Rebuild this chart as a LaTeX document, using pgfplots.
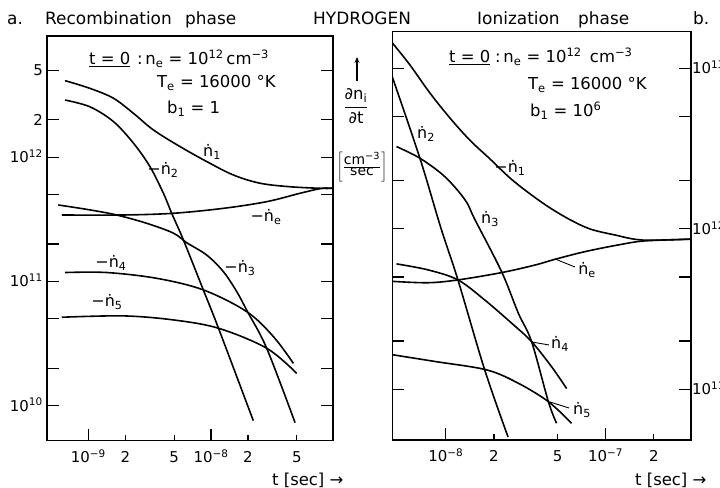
\documentclass[border=0pt]{standalone}
\usepackage{pgfplots}
\pgfplotsset{compat=1.18}
\usepackage{fontspec}
\setmainfont{DejaVu Sans}
\usetikzlibrary{arrows.meta}

\newcommand{\dn}[1]{\.{n}\textsubscript{#1}}
\newcommand{\tp}[1]{10\textsuperscript{#1}}
\newcommand{\ttl}{\fontsize{17}{19}\selectfont}
\newcommand{\lbl}{\fontsize{16.5}{19}\selectfont}
\newcommand{\crv}{\fontsize{16}{18}\selectfont}

\pgfplotsset{
  every axis plot/.append style={line width=1.6pt, smooth, tension=0.55},
}

\begin{document}
\begin{tikzpicture}[txt/.style={anchor=base west, inner sep=0pt}]
\useasboundingbox (0,0) rectangle (720bp,488bp);

% a. recombination phase
\begin{axis}[scale only axis, anchor=south west, at={(47bp,47.3bp)}, width=286bp, height=404.7bp,
  xmode=log, ymode=log,
  cycle list={{black, solid, no markers}},
  axis line style={line width=1.3pt},
  tick align=inside, xtick pos=left, ytick pos=both,
  major tick length=12bp,
  tick style={line width=1.2pt, black},
  minor tick style={draw=none},
  extra tick style={major tick length=6bp},
  tick label style={font=\fontsize{15}{17}\selectfont},
  xticklabel style={anchor=base, inner sep=0pt, yshift=-22bp},
  xmin=4.6e-10, xmax=9.86e-8, ymin=5.22e9, ymax=9.48e12,
  xtick={1e-9,1e-8}, xticklabels={\tp{−9},\tp{−8}},
  extra x ticks={2e-9,5e-9,2e-8,5e-8}, extra x tick labels={2,5,2,5},
  ytick={1e10,2e10,5e10,1e11,2e11,5e11,1e12,2e12,5e12},
  yticklabels={\tp{10},,,\tp{11},,,\tp{12},2,5},
  yticklabel style={anchor=base east, inner sep=0pt, xshift=-4bp, yshift=-5.5bp}]
% n1
\addplot coordinates {(6.46e-10,4.14e12) (1.03e-9,3.59e12) (1.60e-9,2.99e12) (2.33e-9,2.26e12) (3.39e-9,1.66e12) (5.58e-9,1.22e12) (9.23e-9,9.23e11) (1.52e-8,7.2e11) (2.51e-8,6.18e11) (4.40e-8,5.79e11) (7.98e-8,5.62e11) (9.86e-8,5.62e11)};
% -n2
\addplot coordinates {(6.46e-10,2.89e12) (1.03e-9,2.55e12) (1.60e-9,1.94e12) (2.33e-9,1.30e12) (3.18e-9,8.40e11) (4.09e-9,5.13e11) (4.78e-9,3.54e11) (5.95e-9,2.16e11) (8.65e-9,8.55e10) (1.15e-8,4.20e10) (2.21e-8,7.57e9)};
% -n3
\addplot coordinates {(5.69e-10,4.13e11) (1.03e-9,3.77e11) (1.70e-9,3.43e11) (2.99e-9,2.94e11) (4.93e-9,2.45e11) (6.34e-9,2.05e11) (9.23e-9,1.63e11) (1.26e-8,1.20e11) (1.62e-8,8.28e10) (1.98e-8,5.72e10) (2.84e-8,2.90e10) (4.84e-8,7.29e9)};
% -ne
\addplot coordinates {(6.07e-10,3.43e11) (1.93e-9,3.43e11) (4.93e-9,3.54e11) (1.26e-8,3.88e11) (2.84e-8,4.39e11) (5.31e-8,5.13e11) (7.98e-8,5.62e11) (9.86e-8,5.62e11)};
% -n4
\addplot coordinates {(6.46e-10,1.18e11) (1.41e-9,1.18e11) (3.61e-9,1.06e11) (8.65e-9,8.55e10) (1.95e-8,5.72e10) (3.22e-8,3.60e10) (4.69e-8,2.19e10)};
% -n5
\addplot coordinates {(6.07e-10,5.15e10) (1.93e-9,5.28e10) (4.93e-9,4.90e10) (1.15e-8,4.20e10) (2.84e-8,2.90e10) (4.99e-8,1.82e10)};
\end{axis}

% b. ionization phase
\begin{axis}[scale only axis, anchor=south west, at={(392.3bp,48bp)}, width=298.7bp, height=408.3bp,
  xmode=log, ymode=log,
  cycle list={{black, solid, no markers}},
  axis line style={line width=1.3pt},
  tick align=inside, xtick pos=left, ytick pos=both,
  major tick length=12bp,
  tick style={line width=1.2pt, black},
  minor tick style={draw=none},
  extra tick style={major tick length=6bp},
  tick label style={font=\fontsize{15}{17}\selectfont},
  xticklabel style={anchor=base, inner sep=0pt, yshift=-22bp},
  xmin=4.62e-9, xmax=3.42e-7, ymin=4.83e10, ymax=1.69e13,
  xtick={1e-8,1e-7}, xticklabels={\tp{−8},\tp{−7}},
  extra x ticks={2e-8,5e-8,2e-7}, extra x tick labels={2,5,2},
  ytick={1e11,2e11,5e11,1e12,2e12,5e12,1e13},
  yticklabels={\tp{11},,,\tp{12},,,\tp{13}},
  yticklabel pos=right,
  yticklabel style={anchor=base west, inner sep=0pt, xshift=1bp, yshift=-5.5bp}]
% -n1
\addplot coordinates {(4.62e-9,1.44e13) (5.95e-9,1.05e13) (7.94e-9,7.02e12) (1.06e-8,4.90e12) (1.41e-8,3.57e12) (1.89e-8,2.72e12) (2.52e-8,2.07e12) (3.36e-8,1.65e12) (4.48e-8,1.35e12) (5.97e-8,1.14e12) (7.98e-8,9.97e11) (1.14e-7,9.15e11) (1.71e-7,8.5e11) (3.42e-7,8.63e11)};
% ne
\addplot coordinates {(4.65e-9,4.70e11) (7.75e-9,4.61e11) (1.19e-8,4.80e11) (2.23e-8,5.33e11) (3.61e-8,5.94e11) (4.81e-8,6.45e11) (7.42e-8,7.2e11) (1.20e-7,7.93e11) (1.76e-7,8.4e11) (3.42e-7,8.6e11)};
% n2
\addplot coordinates {(4.62e-9,8.83e12) (6.88e-9,2.75e12) (9.31e-9,1.01e12) (1.19e-8,4.8e11) (1.75e-8,1.32e11) (2.45e-8,5.04e10)};
% n3
\addplot coordinates {(4.91e-9,3.25e12) (6.88e-9,2.75e12) (9.86e-9,2.11e12) (1.32e-8,1.51e12) (1.52e-8,1.14e12) (2.23e-8,5.41e11) (2.84e-8,2.98e11) (3.44e-8,1.98e11) (4.38e-8,8.37e10) (4.93e-8,6.14e10)};
% n4
\addplot coordinates {(4.91e-9,6.04e11) (7.75e-9,5.54e11) (1.19e-8,4.80e11) (1.75e-8,3.60e11) (2.58e-8,2.58e11) (3.44e-8,1.98e11) (4.59e-8,1.38e11) (5.70e-8,1.01e11)};
% n5
\addplot coordinates {(4.65e-9,1.64e11) (8.53e-9,1.49e11) (1.80e-8,1.32e11) (2.84e-8,1.09e11) (4.38e-8,8.37e10) (6.12e-8,6.14e10)};
\end{axis}

% titles
\node[txt, font=\ttl] at (7bp,463bp) {a.};
\node[txt, font=\ttl] at (45bp,463bp) {Recombination};
\node[txt, font=\ttl] at (185bp,463bp) {phase};
\node[txt, font=\ttl] at (313bp,463bp) {HYDROGEN};
\node[txt, font=\ttl] at (477bp,463bp) {Ionization};
\node[txt, font=\ttl] at (578bp,463bp) {phase};
\node[txt, font=\ttl] at (693bp,463bp) {b.};

% conditions, left
\node[txt, font=\lbl] at (89bp,423bp) {\underline{t = 0}};
\node[txt, font=\lbl] at (137bp,423bp) {:\,n\textsubscript{e} = \tp{12}\,cm\textsuperscript{−3}};
\node[txt, font=\lbl] at (157bp,400bp) {T\textsubscript{e} = 16000 °K};
\node[txt, font=\lbl] at (167bp,374bp) {b\textsubscript{1} = 1};
% conditions, right
\node[txt, font=\lbl] at (449bp,425bp) {\underline{t = 0}};
\node[txt, font=\lbl] at (495bp,425bp) {:\,n\textsubscript{e} = \tp{12}\enspace cm\textsuperscript{−3}};
\node[txt, font=\lbl] at (528bp,398bp) {T\textsubscript{e} = 16000 °K};
\node[txt, font=\lbl] at (530bp,371bp) {b\textsubscript{1} = \tp{6}};

% curve labels, left
\node[font=\crv, inner sep=0pt] at (212bp,336bp) {\dn{1}};
\node[font=\crv, inner sep=0pt] at (163bp,318bp) {−\dn{2}};
\node[font=\crv, inner sep=0pt] at (266bp,271bp) {−\dn{e}};
\node[font=\crv, inner sep=0pt] at (240bp,220bp) {−\dn{3}};
\node[font=\crv, inner sep=0pt] at (111bp,225bp) {−\dn{4}};
\node[font=\crv, inner sep=0pt] at (107bp,186bp) {−\dn{5}};
% curve labels, right
\node[font=\crv, inner sep=0pt] at (426bp,354bp) {\dn{2}};
\node[font=\crv, inner sep=0pt] at (510bp,320bp) {−\dn{1}};
\node[font=\crv, inner sep=0pt] at (490bp,269bp) {\dn{3}};
\node[font=\crv, inner sep=0pt] at (587bp,218bp) {\dn{e}};
\node[font=\crv, inner sep=0pt] at (560bp,144bp) {\dn{4}};
\node[font=\crv, inner sep=0pt] at (582bp,78bp) {\dn{5}};
\draw[line width=0.9pt] (555bp,229bp) -- (575bp,221bp);
\draw[line width=0.9pt] (532bp,146bp) -- (549bp,143bp);
\draw[line width=0.9pt] (550bp,86bp) -- (569bp,80bp);

% y label between the panels
\draw[line width=1.3pt, -{Stealth[length=6bp,width=5bp]}] (357bp,407bp) -- (357bp,431bp);
\node[font=\lbl, inner sep=0pt] at (356bp,382bp) {$\displaystyle\frac{\mbox{∂n\textsubscript{i}}}{\mbox{∂t}}$};
\node[font=\fontsize{14}{16}\selectfont, inner sep=0pt] at (362bp,321bp) {$\left[\frac{\mbox{cm\textsuperscript{−3}}}{\mbox{sec}}\right]$};

% x labels
\node[txt, font=\lbl] at (272bp,3bp) {t [sec] →};
\node[txt, font=\lbl] at (635bp,3bp) {t [sec] →};
\end{tikzpicture}
\end{document}
